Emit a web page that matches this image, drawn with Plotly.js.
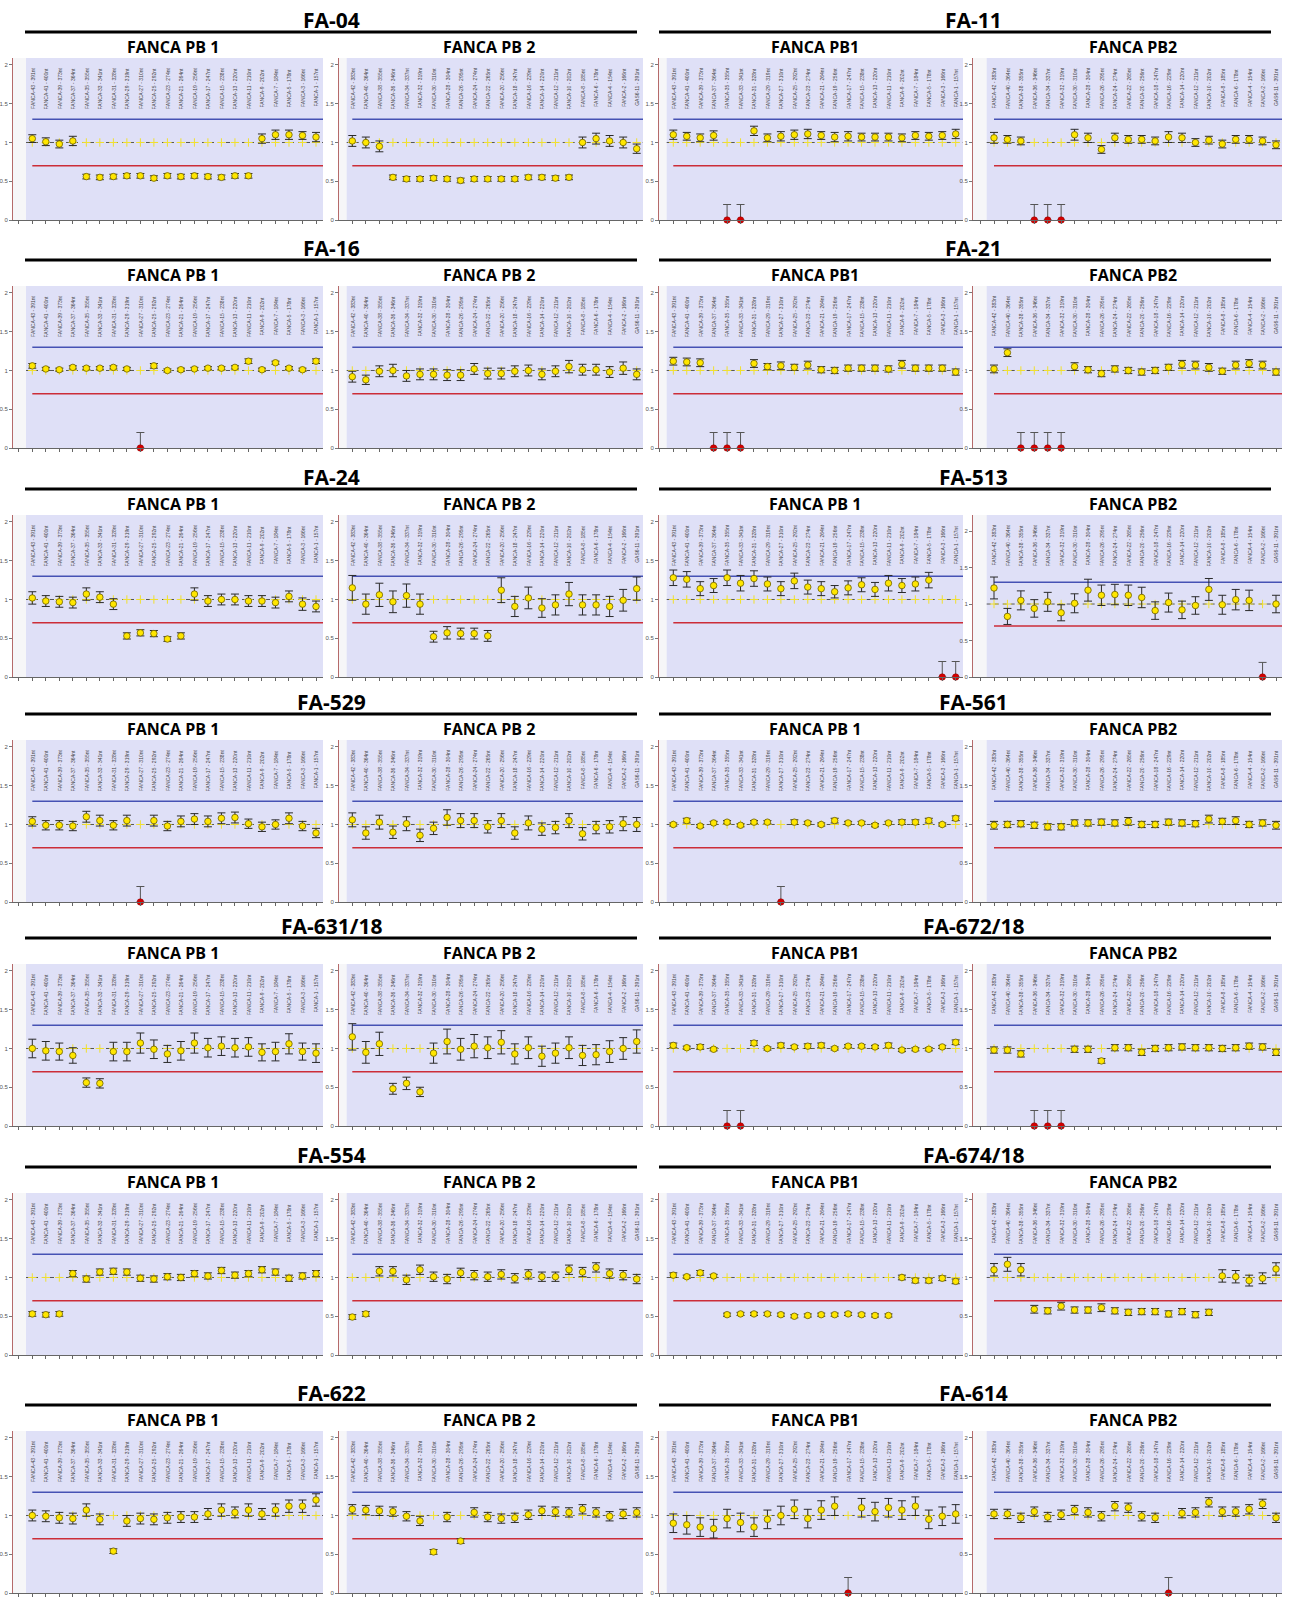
<!DOCTYPE html>
<html><head><meta charset="utf-8">
<script src="https://cdn.plot.ly/plotly-3.0.1.min.js"></script>
<style>html,body{margin:0;padding:0;background:#fff}#chart{width:1290px;height:1602px}</style>
</head><body><div id="chart"></div>
<script>
// ---------- labels ----------
const PB1_PROBES = ["FANCA-43 - 391nt","FANCA-41 - 400nt","FANCA-39 - 373nt","FANCA-37 - 364nt","FANCA-35 - 355nt","FANCA-33 - 341nt","FANCA-31 - 328nt","FANCA-29 - 319nt","FANCA-27 - 310nt","FANCA-25 - 292nt","FANCA-23 - 274nt","FANCA-21 - 264nt","FANCA-19 - 256nt","FANCA-17 - 247nt","FANCA-15 - 238nt","FANCA-13 - 220nt","FANCA-11 - 210nt","FANCA-9 - 202nt","FANCA-7 - 184nt","FANCA-5 - 178nt","FANCA-3 - 166nt","FANCA-1 - 157nt"];
const PB2_PROBES = ["FANCA-42 - 383nt","FANCA-40 - 364nt","FANCA-38 - 355nt","FANCA-36 - 346nt","FANCA-34 - 337nt","FANCA-32 - 319nt","FANCA-30 - 310nt","FANCA-28 - 304nt","FANCA-26 - 295nt","FANCA-24 - 274nt","FANCA-22 - 265nt","FANCA-20 - 256nt","FANCA-18 - 247nt","FANCA-16 - 229nt","FANCA-14 - 220nt","FANCA-12 - 211nt","FANCA-10 - 202nt","FANCA-8 - 185nt","FANCA-6 - 178nt","FANCA-4 - 154nt","FANCA-2 - 166nt","GAS6-11 - 391nt"];
const SAMPLES = ["FA-04","FA-11","FA-16","FA-21","FA-24","FA-513","FA-529","FA-561","FA-631/18","FA-672/18","FA-554","FA-674/18","FA-622","FA-614"];
const SUBTITLES = [["FANCA PB 1","FANCA PB 2"],["FANCA PB1","FANCA PB2"],["FANCA PB 1","FANCA PB 2"],["FANCA PB1","FANCA PB2"],["FANCA PB 1","FANCA PB 2"],["FANCA PB 1","FANCA PB2"],["FANCA PB 1","FANCA PB 2"],["FANCA PB 1","FANCA PB2"],["FANCA PB 1","FANCA PB 2"],["FANCA PB1","FANCA PB2"],["FANCA PB 1","FANCA PB 2"],["FANCA PB1","FANCA PB2"],["FANCA PB 1","FANCA PB 2"],["FANCA PB1","FANCA PB2"]];
const Y_TICKS = [0, 0.5, 1, 1.5, 2];
const Y_TICK_TEXT = ["0", "0.5", "1", "1.5", "2"];
const UPPER_LIMIT = 1.3, LOWER_LIMIT = 0.7, REF_LEVEL = 1;

// ---------- data (ratio, error); 0 = deleted probe, its error = upper bar only ----------
const FA04_PB1 = [1.05,1.01,0.98,1.02,0.56,0.55,0.56,0.57,0.57,0.54,0.57,0.56,0.57,0.56,0.55,0.57,0.57,1.05,1.10,1.10,1.09,1.07];
const FA04_PB1_ERR = [0.05,0.05,0.05,0.06,0.03,0.03,0.03,0.03,0.03,0.03,0.03,0.03,0.03,0.03,0.03,0.03,0.03,0.06,0.06,0.06,0.05,0.06];
const FA04_PB2 = [1.02,1.00,0.95,0.55,0.53,0.53,0.54,0.53,0.51,0.53,0.53,0.53,0.53,0.55,0.55,0.54,0.55,1.00,1.05,1.02,1.00,0.92];
const FA04_PB2_ERR = [0.07,0.07,0.07,0.03,0.03,0.03,0.03,0.03,0.03,0.03,0.03,0.03,0.03,0.03,0.03,0.03,0.03,0.07,0.07,0.07,0.07,0.06];
const FA11_PB1 = [1.10,1.08,1.06,1.09,0,0,1.15,1.06,1.08,1.10,1.11,1.09,1.07,1.08,1.07,1.07,1.07,1.06,1.09,1.08,1.09,1.11];
const FA11_PB1_ERR = [0.06,0.05,0.05,0.06,0.2,0.2,0.06,0.05,0.06,0.06,0.06,0.05,0.06,0.06,0.05,0.05,0.05,0.05,0.05,0.05,0.05,0.06];
const FA11_PB2 = [1.06,1.04,1.02,0,0,0,1.10,1.06,0.91,1.06,1.04,1.04,1.02,1.07,1.06,1.00,1.03,0.98,1.04,1.04,1.02,0.97];
const FA11_PB2_ERR = [0.07,0.05,0.05,0.2,0.2,0.2,0.07,0.06,0.05,0.06,0.05,0.05,0.05,0.07,0.06,0.05,0.05,0.05,0.05,0.05,0.05,0.05];
const FA16_PB1 = [1.06,1.02,1.01,1.04,1.03,1.03,1.04,1.02,0,1.06,1.00,1.01,1.02,1.03,1.03,1.04,1.12,1.01,1.10,1.03,1.01,1.12];
const FA16_PB1_ERR = [0.03,0.02,0.02,0.02,0.02,0.02,0.02,0.02,0.2,0.03,0.02,0.02,0.02,0.02,0.02,0.02,0.03,0.02,0.02,0.02,0.02,0.03];
const FA16_PB2 = [0.92,0.88,0.99,1.00,0.93,0.95,0.95,0.94,0.94,1.02,0.96,0.96,0.99,1.00,0.95,0.99,1.05,1.01,1.01,0.98,1.03,0.95];
const FA16_PB2_ERR = [0.07,0.06,0.07,0.08,0.07,0.07,0.07,0.07,0.07,0.07,0.07,0.07,0.07,0.07,0.07,0.07,0.08,0.07,0.07,0.07,0.08,0.07];
const FA21_PB1 = [1.12,1.11,1.10,0,0,0,1.09,1.05,1.06,1.04,1.07,1.01,1.00,1.03,1.03,1.03,1.02,1.08,1.03,1.03,1.03,0.98];
const FA21_PB1_ERR = [0.05,0.05,0.05,0.2,0.2,0.2,0.05,0.04,0.05,0.04,0.05,0.04,0.04,0.04,0.04,0.04,0.04,0.05,0.04,0.04,0.04,0.04];
const FA21_PB2 = [1.02,1.23,0,0,0,0,1.05,1.01,0.96,1.02,1.00,0.98,1.00,1.04,1.08,1.07,1.04,0.99,1.07,1.09,1.07,0.98];
const FA21_PB2_ERR = [0.05,0.05,0.2,0.2,0.2,0.2,0.05,0.04,0.04,0.04,0.04,0.04,0.04,0.04,0.05,0.05,0.05,0.04,0.05,0.05,0.05,0.04];
const FA24_PB1 = [1.02,0.98,0.97,0.96,1.07,1.03,0.94,0.53,0.57,0.56,0.49,0.53,1.07,0.98,1.00,1.00,0.98,0.98,0.96,1.04,0.94,0.91];
const FA24_PB1_ERR = [0.08,0.07,0.07,0.07,0.08,0.07,0.07,0.04,0.04,0.04,0.03,0.04,0.08,0.07,0.07,0.07,0.07,0.07,0.07,0.07,0.08,0.07];
const FA24_PB2 = [1.15,0.94,1.06,0.97,1.05,0.94,0.52,0.57,0.56,0.56,0.53,1.12,0.91,1.02,0.89,0.93,1.07,0.93,0.93,0.91,0.99,1.14];
const FA24_PB2_ERR = [0.16,0.13,0.15,0.14,0.15,0.13,0.07,0.08,0.07,0.07,0.07,0.16,0.13,0.14,0.12,0.13,0.15,0.13,0.13,0.13,0.14,0.15];
const FA513_PB1 = [1.28,1.26,1.14,1.18,1.28,1.21,1.27,1.20,1.14,1.24,1.16,1.14,1.10,1.15,1.19,1.13,1.21,1.18,1.20,1.25,0,0];
const FA513_PB1_ERR = [0.10,0.10,0.09,0.09,0.10,0.10,0.10,0.09,0.09,0.10,0.09,0.09,0.08,0.09,0.09,0.09,0.10,0.09,0.09,0.10,0.2,0.2];
const FA513_PB2 = [1.22,0.83,1.05,0.94,1.03,0.88,1.01,1.19,1.12,1.13,1.12,1.09,0.91,1.02,0.92,0.98,1.20,0.99,1.06,1.05,0,1.00];
const FA513_PB2_ERR = [0.15,0.11,0.13,0.12,0.13,0.11,0.13,0.15,0.14,0.14,0.14,0.14,0.12,0.13,0.12,0.12,0.15,0.13,0.14,0.14,0.2,0.12];
const FA529_PB1 = [1.04,0.99,0.99,0.98,1.10,1.05,0.99,1.05,0,1.05,0.98,1.04,1.07,1.04,1.08,1.09,1.01,0.97,1.00,1.08,0.98,0.89];
const FA529_PB1_ERR = [0.06,0.06,0.06,0.06,0.07,0.07,0.06,0.07,0.2,0.07,0.06,0.07,0.07,0.07,0.07,0.07,0.06,0.06,0.06,0.07,0.06,0.06];
const FA529_PB2 = [1.06,0.89,1.03,0.90,1.01,0.86,0.95,1.09,1.05,1.05,0.97,1.05,0.89,1.02,0.94,0.96,1.05,0.88,0.96,0.97,1.01,1.00];
const FA529_PB2_ERR = [0.09,0.08,0.09,0.08,0.09,0.08,0.08,0.10,0.09,0.09,0.08,0.09,0.08,0.09,0.08,0.08,0.09,0.08,0.08,0.08,0.09,0.09];
const FA561_PB1 = [1.00,1.05,0.98,1.02,1.03,0.99,1.03,1.03,0,1.03,1.02,1.00,1.05,1.02,1.02,0.99,1.02,1.03,1.03,1.05,1.00,1.08];
const FA561_PB1_ERR = [0.02,0.03,0.02,0.02,0.02,0.02,0.02,0.02,0.2,0.03,0.02,0.02,0.03,0.02,0.02,0.02,0.02,0.03,0.03,0.03,0.02,0.03];
const FA561_PB2 = [0.99,1.00,1.01,0.99,0.97,0.97,1.02,1.02,1.03,1.02,1.04,1.00,1.00,1.03,1.02,1.01,1.07,1.04,1.05,1.00,1.02,0.99];
const FA561_PB2_ERR = [0.05,0.04,0.04,0.04,0.04,0.04,0.04,0.04,0.04,0.04,0.05,0.04,0.04,0.04,0.04,0.04,0.05,0.04,0.05,0.04,0.04,0.05];
const FA631_PB1 = [1.00,0.97,0.96,0.91,0.56,0.55,0.96,0.96,1.07,0.99,0.93,0.97,1.07,1.01,1.03,1.01,1.02,0.95,0.96,1.06,0.96,0.94];
const FA631_PB1_ERR = [0.12,0.12,0.11,0.10,0.06,0.06,0.12,0.12,0.13,0.12,0.11,0.12,0.13,0.12,0.12,0.12,0.12,0.11,0.12,0.13,0.11,0.12];
const FA631_PB2 = [1.15,0.95,1.06,0.48,0.55,0.44,0.94,1.09,0.99,1.03,1.01,1.08,0.93,1.01,0.90,0.94,1.01,0.91,0.92,0.96,1.00,1.09];
const FA631_PB2_ERR = [0.17,0.14,0.15,0.07,0.08,0.06,0.13,0.16,0.14,0.15,0.14,0.15,0.13,0.14,0.13,0.13,0.14,0.13,0.13,0.14,0.14,0.15];
const FA672_PB1 = [1.04,1.01,1.02,0.99,0,0,1.07,1.00,1.04,1.02,1.03,1.04,1.00,1.03,1.03,1.02,1.04,0.98,0.99,0.99,1.02,1.08];
const FA672_PB1_ERR = [0.03,0.02,0.03,0.02,0.2,0.2,0.03,0.02,0.03,0.02,0.03,0.03,0.02,0.02,0.02,0.02,0.03,0.02,0.02,0.02,0.02,0.03];
const FA672_PB2 = [0.98,0.98,0.93,0,0,0,0.99,0.99,0.84,1.01,1.01,0.95,1.00,1.01,1.02,1.01,1.01,1.00,1.01,1.03,1.02,0.95];
const FA672_PB2_ERR = [0.04,0.04,0.04,0.2,0.2,0.2,0.04,0.04,0.03,0.04,0.04,0.04,0.04,0.04,0.04,0.04,0.04,0.04,0.04,0.04,0.04,0.04];
const FA554_PB1 = [0.53,0.52,0.53,1.05,0.98,1.07,1.08,1.07,0.99,0.98,1.01,1.00,1.05,1.02,1.09,1.03,1.05,1.10,1.07,0.99,1.02,1.05];
const FA554_PB1_ERR = [0.03,0.03,0.03,0.04,0.04,0.04,0.04,0.04,0.04,0.04,0.04,0.04,0.04,0.04,0.04,0.04,0.04,0.04,0.04,0.04,0.04,0.04];
const FA554_PB2 = [0.49,0.53,1.08,1.08,0.97,1.10,1.01,0.98,1.06,1.03,1.01,1.04,0.99,1.04,1.01,1.01,1.10,1.07,1.13,1.05,1.03,0.98];
const FA554_PB2_ERR = [0.03,0.03,0.06,0.06,0.06,0.06,0.06,0.06,0.06,0.06,0.06,0.06,0.06,0.06,0.06,0.06,0.06,0.06,0.06,0.06,0.06,0.06];
const FA674_PB1 = [1.03,1.01,1.06,1.02,0.52,0.53,0.53,0.53,0.52,0.50,0.51,0.52,0.52,0.53,0.52,0.51,0.51,1.00,0.96,0.96,0.99,0.95];
const FA674_PB1_ERR = [0.03,0.02,0.03,0.02,0.02,0.02,0.02,0.02,0.02,0.02,0.02,0.02,0.02,0.02,0.02,0.02,0.02,0.03,0.03,0.03,0.03,0.03];
const FA674_PB2 = [1.10,1.17,1.10,0.59,0.57,0.63,0.58,0.58,0.61,0.57,0.55,0.56,0.56,0.53,0.56,0.52,0.55,1.02,1.01,0.96,0.99,1.11];
const FA674_PB2_ERR = [0.08,0.09,0.08,0.05,0.04,0.05,0.04,0.04,0.05,0.04,0.04,0.04,0.04,0.04,0.04,0.04,0.04,0.08,0.08,0.07,0.07,0.08];
const FA622_PB1 = [1.00,0.99,0.97,0.96,1.07,0.95,0.54,0.93,0.96,0.95,0.97,0.98,0.98,1.02,1.07,1.04,1.07,1.02,1.07,1.12,1.12,1.20];
const FA622_PB1_ERR = [0.07,0.07,0.07,0.07,0.08,0.07,0.03,0.07,0.07,0.07,0.07,0.07,0.07,0.07,0.08,0.07,0.08,0.07,0.08,0.08,0.08,0.08];
const FA622_PB2 = [1.08,1.07,1.06,1.05,0.99,0.93,0.53,0.98,0.67,1.04,0.98,0.96,0.97,1.01,1.06,1.05,1.04,1.08,1.04,0.99,1.02,1.04];
const FA622_PB2_ERR = [0.06,0.06,0.06,0.06,0.06,0.06,0.03,0.06,0.03,0.06,0.06,0.06,0.06,0.06,0.06,0.06,0.06,0.06,0.06,0.06,0.06,0.06];
const FA614_PB1 = [0.90,0.88,0.85,0.83,0.96,0.91,0.85,0.95,1.00,1.08,0.96,1.07,1.12,0,1.10,1.05,1.10,1.07,1.12,0.95,0.99,1.02];
const FA614_PB1_ERR = [0.12,0.12,0.12,0.12,0.12,0.12,0.12,0.12,0.12,0.12,0.12,0.12,0.12,0.2,0.12,0.12,0.12,0.12,0.12,0.12,0.12,0.12];
const FA614_PB2 = [1.02,1.02,0.97,1.05,0.98,1.01,1.07,1.04,0.99,1.12,1.10,0.99,0.97,0,1.03,1.04,1.17,1.05,1.05,1.08,1.15,0.97];
const FA614_PB2_ERR = [0.06,0.06,0.06,0.06,0.06,0.06,0.06,0.06,0.06,0.06,0.06,0.06,0.06,0.2,0.06,0.06,0.06,0.06,0.06,0.06,0.06,0.06];

const PANEL_DATA = [
  [FA04_PB1, FA04_PB1_ERR, FA04_PB2, FA04_PB2_ERR],
  [FA11_PB1, FA11_PB1_ERR, FA11_PB2, FA11_PB2_ERR],
  [FA16_PB1, FA16_PB1_ERR, FA16_PB2, FA16_PB2_ERR],
  [FA21_PB1, FA21_PB1_ERR, FA21_PB2, FA21_PB2_ERR],
  [FA24_PB1, FA24_PB1_ERR, FA24_PB2, FA24_PB2_ERR],
  [FA513_PB1, FA513_PB1_ERR, FA513_PB2, FA513_PB2_ERR],
  [FA529_PB1, FA529_PB1_ERR, FA529_PB2, FA529_PB2_ERR],
  [FA561_PB1, FA561_PB1_ERR, FA561_PB2, FA561_PB2_ERR],
  [FA631_PB1, FA631_PB1_ERR, FA631_PB2, FA631_PB2_ERR],
  [FA672_PB1, FA672_PB1_ERR, FA672_PB2, FA672_PB2_ERR],
  [FA554_PB1, FA554_PB1_ERR, FA554_PB2, FA554_PB2_ERR],
  [FA674_PB1, FA674_PB1_ERR, FA674_PB2, FA674_PB2_ERR],
  [FA622_PB1, FA622_PB1_ERR, FA622_PB2, FA622_PB2_ERR],
  [FA614_PB1, FA614_PB1_ERR, FA614_PB2, FA614_PB2_ERR]
];

// ---------- layout geometry (pixels) ----------
const W = 1290, H = 1602;
const ROW_TOP = [20, 248, 477, 702, 926, 1155, 1393];
const COLS = [ // axis x, lavender start, first probe, last probe, right edge
  {a: 13, lav: 26, f: 32.3, l: 316, r: 323},
  {a: 339, lav: 346.7, f: 352.3, l: 636.7, r: 643},
  {a: 659, lav: 666.7, f: 673.3, l: 955.7, r: 963},
  {a: 973, lav: 986.7, f: 994, l: 1276, r: 1282}
];
const TITLE_X = [331, 973];
const SUB_X = [173, 489, 815, 1133];
const LINE_X = [[25, 637], [659, 1271]];
const Y_TOP_DEFAULT = 2.09;
const Y_TOP_OVERRIDE = {11: 2.22}; // FA-513 PB2 panel drawn with a compressed y scale
const px = v => v / W, py = v => 1 - v / H;

const traces = [], shapes = [], annotations = [];
const layout = {
  width: W, height: H, margin: {l: 0, r: 0, t: 0, b: 0},
  paper_bgcolor: '#ffffff', plot_bgcolor: '#f6f6f8', showlegend: false
};

SAMPLES.forEach((name, s) => {
  const row = Math.floor(s / 2), blk = s % 2, T = ROW_TOP[row];
  annotations.push({text: '<b>' + name + '</b>', xref: 'paper', yref: 'paper', x: px(TITLE_X[blk]), y: py(T),
    xanchor: 'center', yanchor: 'middle', showarrow: false, font: {family: 'Open Sans', size: 21, color: '#000'}});
  shapes.push({type: 'line', xref: 'paper', yref: 'paper', x0: px(LINE_X[blk][0]), x1: px(LINE_X[blk][1]),
    y0: py(T + 12), y1: py(T + 12), line: {color: '#000', width: 3}});
  for (let side = 0; side < 2; side++) {
    const k = s * 2 + side, n = k + 1, c = COLS[blk * 2 + side];
    const xa = 'x' + n, ya = 'y' + n;
    const vals = PANEL_DATA[s][side * 2], errs = PANEL_DATA[s][side * 2 + 1];
    const probes = side === 0 ? PB1_PROBES : PB2_PROBES;
    const sp = (c.l - c.f) / (probes.length - 1);
    const r0 = -(c.f - c.a) / sp, r1 = probes.length - 1 + (c.r - c.l) / sp, lavX = -(c.f - c.lav) / sp;
    const yTop = Y_TOP_OVERRIDE[k] || Y_TOP_DEFAULT;
    const tv = []; for (let t = Math.ceil(r0); t <= probes.length - 1; t++) tv.push(t);
    layout['xaxis' + n] = {domain: [px(c.a), px(c.r)], range: [r0, r1], anchor: ya, showgrid: false, zeroline: false,
      showline: true, linecolor: '#666', linewidth: 1, ticks: 'outside', ticklen: 3, tickcolor: '#666',
      tickvals: tv, showticklabels: false, fixedrange: true};
    layout['yaxis' + n] = {domain: [py(T + 200), py(T + 38)], range: [0, yTop], anchor: xa, showgrid: false, zeroline: false,
      showline: true, linecolor: '#b56a6a', linewidth: 1, ticks: 'outside', ticklen: 3, tickcolor: '#777',
      tickvals: Y_TICKS, ticktext: Y_TICK_TEXT, tickfont: {family: 'Liberation Sans', size: 6, color: '#555'}, fixedrange: true};
    annotations.push({text: '<b>' + SUBTITLES[s][side] + '</b>', xref: 'paper', yref: 'paper', x: px(SUB_X[blk * 2 + side]), y: py(T + 27),
      xanchor: 'center', yanchor: 'middle', showarrow: false, font: {family: 'Open Sans', size: 16, color: '#000'}});
    // background and reference lines
    shapes.push({type: 'rect', xref: xa, yref: ya, x0: lavX, x1: r1, y0: 0, y1: yTop, layer: 'below', line: {width: 0}, fillcolor: '#dfe0f7'});
    shapes.push({type: 'line', xref: xa, yref: ya, x0: 0, x1: r1, y0: UPPER_LIMIT, y1: UPPER_LIMIT, layer: 'below', line: {color: '#4652b4', width: 1.5}});
    shapes.push({type: 'line', xref: xa, yref: ya, x0: 0, x1: r1, y0: LOWER_LIMIT, y1: LOWER_LIMIT, layer: 'below', line: {color: '#cc2d38', width: 1.5}});
    shapes.push({type: 'line', xref: xa, yref: ya, x0: lavX, x1: r1, y0: REF_LEVEL, y1: REF_LEVEL, layer: 'below', line: {color: '#555', width: 1, dash: '4px,4px'}});
    // probe labels
    probes.forEach((p, i) => annotations.push({text: p, xref: xa, yref: ya + ' domain', x: i, y: 0.95, textangle: -90,
      xanchor: 'center', yanchor: 'top', showarrow: false, font: {family: 'Liberation Sans', size: 5, color: '#444'}}));
    const idx = probes.map((_, i) => i);
    // reference crosses
    traces.push({type: 'scatter', mode: 'markers', xaxis: xa, yaxis: ya, x: idx, y: idx.map(() => REF_LEVEL), hoverinfo: 'skip',
      marker: {symbol: 'cross-thin', size: 6, line: {color: '#f0e030', width: 1}}});
    const okI = idx.filter(i => vals[i] > 0), delI = idx.filter(i => vals[i] === 0);
    traces.push({type: 'scatter', mode: 'markers', xaxis: xa, yaxis: ya, x: okI, y: okI.map(i => vals[i]),
      error_y: {type: 'data', array: okI.map(i => errs[i]), color: '#2a2a2a', thickness: 1, width: 4},
      marker: {symbol: 'circle', size: 6.5, color: '#ffe600', line: {color: '#6b5e00', width: 0.8}}});
    if (delI.length) traces.push({type: 'scatter', mode: 'markers', xaxis: xa, yaxis: ya, x: delI, y: delI.map(i => vals[i]), cliponaxis: false,
      error_y: {type: 'data', symmetric: false, array: delI.map(i => errs[i]), arrayminus: delI.map(() => 0), color: '#555', thickness: 1, width: 4},
      marker: {symbol: 'circle', size: 6.5, color: '#d40000', line: {color: '#8a0000', width: 0.5}}});
  }
});
layout.shapes = shapes;
layout.annotations = annotations;
Plotly.newPlot('chart', traces, layout, {staticPlot: true, displayModeBar: false});
</script></body></html>
